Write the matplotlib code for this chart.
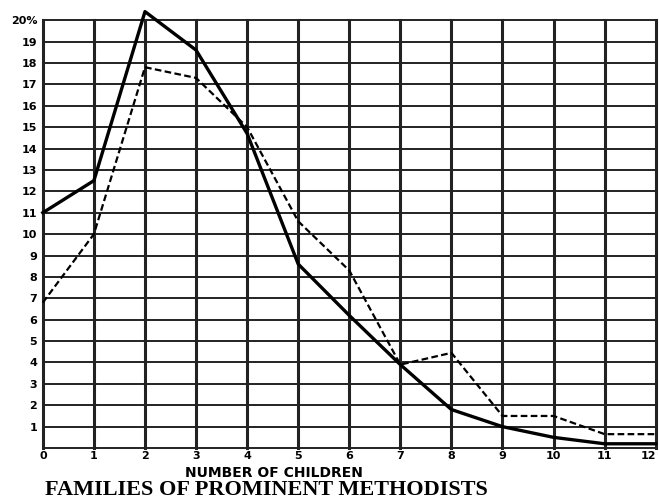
import matplotlib.pyplot as plt
import numpy as np

# number of children 0..12
children = list(range(13))
# percentages
solid_pct = [11.0, 12.5, 20.4, 18.6, 14.7, 8.6, 6.2, 3.9, 1.8, 1.0, 0.5, 0.2, 0.2]
dashed_pct = [6.8, 10.0, 17.8, 17.3, 15.0, 10.6, 8.3, 3.9, 4.45, 1.5, 1.5, 0.65, 0.65]

x_labels = [str(c) for c in children]
y_labels = [str(v) for v in range(1, 20)] + ["20%"]

fig = plt.figure(figsize=(6.59, 5.04), dpi=100)
ax = fig.add_axes([0.065, 0.111, 0.93, 0.849])

ax.set_xlim(0, 12)
ax.set_ylim(0, 20)

# hand-ruled grid
for c in children:
    ax.axvline(c, color="#222222", lw=2.2, zorder=1, clip_on=False)
for v in range(0, 21):
    ax.axhline(v, color="#222222", lw=1.4, zorder=1, clip_on=False)

ax.plot(children, solid_pct, color="black", lw=2.4, zorder=3, clip_on=False)
ax.plot(children, dashed_pct, color="black", lw=1.6, ls=(0, (3, 1.5)), zorder=3, clip_on=False)

for s in ax.spines.values():
    s.set_visible(False)

ax.set_xticks(children)
ax.set_xticklabels(x_labels, fontsize=8, fontweight="bold")
ax.get_xticklabels()[-1].set_ha("right")
ax.set_yticks(range(1, 21))
ax.set_yticklabels(y_labels, fontsize=8, fontweight="bold")
ax.tick_params(axis="x", length=0, pad=2)
ax.tick_params(axis="y", length=0, pad=4)
ax.set_xlabel("NUMBER OF CHILDREN", fontsize=10, fontweight="bold")
ax.xaxis.set_label_coords(0.377, -0.043, transform=ax.transAxes)
ax.xaxis.label.set_va("top")

fig.text(0.405, 0.027, "FAMILIES OF PROMINENT METHODISTS", ha="center", va="center",
         fontsize=16, fontweight="bold", family="Liberation Serif")

plt.savefig("out.png", dpi=100)
